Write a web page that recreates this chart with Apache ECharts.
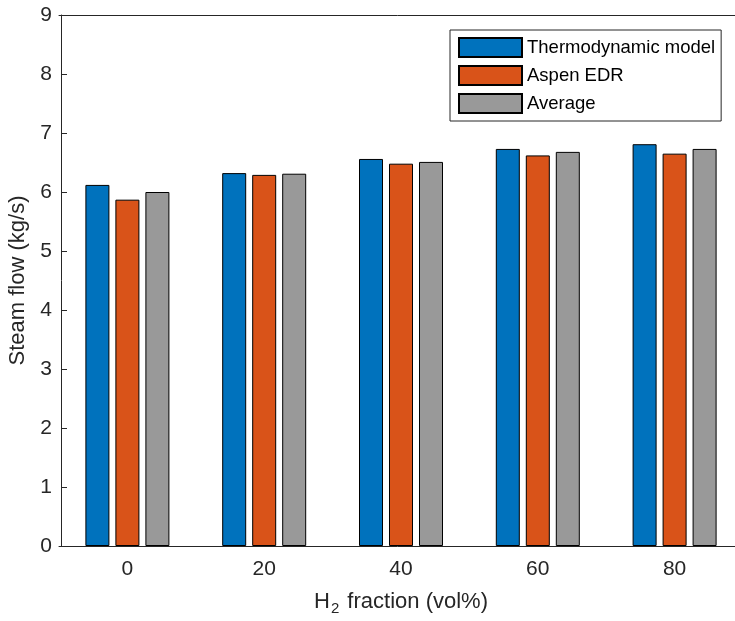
<!DOCTYPE html>
<html>
<head>
<meta charset="utf-8">
<script src="https://cdn.jsdelivr.net/npm/echarts@6/dist/echarts.min.js"></script>
<style>html,body{margin:0;padding:0;background:#fff}#c{width:735px;height:621px}</style>
</head>
<body>
<div id="c"></div>
<script>
var categories = ['0', '20', '40', '60', '80'];
var thermoModel = [6.12, 6.32, 6.56, 6.73, 6.81];
var aspenEDR = [5.87, 6.29, 6.48, 6.62, 6.65];
var average = [6.00, 6.31, 6.51, 6.68, 6.73];
var yTicks = { min: 0, max: 9, interval: 1 };

var font = 'Liberation Sans, Arial, Helvetica, sans-serif';
var txt = '#262626';
var chart = echarts.init(document.getElementById('c'), null, { renderer: 'canvas' });
function ser(name, data, color) {
  return {
    name: name, type: 'bar', data: data, barWidth: 24, barGap: '25%',
    itemStyle: { color: color, borderColor: '#000', borderWidth: 1 },
    emphasis: { disabled: true }
  };
}
chart.setOption({
  animation: false,
  grid: { left: 59, top: 15, bottom: 75, right: -8, containLabel: false, outerBoundsMode: 'none' },
  legend: {
    orient: 'vertical', left: 450, top: 30,
    padding: [7, 6, 7, 8],
    itemWidth: 63, itemHeight: 19, itemGap: 7,
    borderColor: '#262626', borderWidth: 1, backgroundColor: '#fff',
    icon: 'rect',
    textStyle: { fontFamily: font, fontSize: 18.5, color: '#000', lineHeight: 19 },
    data: ['Thermodynamic model', 'Aspen EDR', 'Average']
  },
  xAxis: [{
    type: 'category', data: categories, position: 'bottom', z: 10,
    axisLine: { lineStyle: { color: txt, width: 1 } },
    axisTick: { inside: true, alignWithLabel: true, length: 6, lineStyle: { color: txt } },
    axisLabel: { fontFamily: font, fontSize: 21, color: txt, margin: 13 },
    name: '{a|H}{s|2}{a| fraction (vol%)}', nameLocation: 'middle', nameGap: 41,
    nameTextStyle: { rich: {
      a: { fontFamily: font, fontSize: 22, color: txt },
      s: { fontFamily: font, fontSize: 15, color: txt, verticalAlign: 'bottom', padding: [14, 2, 0, 1] }
    } }
  }, {
    type: 'category', data: categories, position: 'top', z: 10,
    axisLine: { lineStyle: { color: txt, width: 1 } },
    axisTick: { inside: true, alignWithLabel: true, length: 6, lineStyle: { color: txt } },
    axisLabel: { show: false }
  }],
  yAxis: {
    type: 'value', min: yTicks.min, max: yTicks.max, interval: yTicks.interval, z: 10,
    offset: -2,
    axisLine: { show: true, lineStyle: { color: txt, width: 1 } },
    axisTick: { show: true, inside: true, length: 6, lineStyle: { color: txt } },
    splitLine: { show: false },
    axisLabel: { fontFamily: font, fontSize: 21, color: txt, margin: 9 },
    name: 'Steam flow (kg/s)', nameLocation: 'middle', nameGap: 29,
    nameTextStyle: { fontFamily: font, fontSize: 22, color: txt }
  },
  series: [
    ser('Thermodynamic model', thermoModel, '#0072BD'),
    ser('Aspen EDR', aspenEDR, '#D95319'),
    ser('Average', average, '#999999')
  ]
});
</script>
</body>
</html>
